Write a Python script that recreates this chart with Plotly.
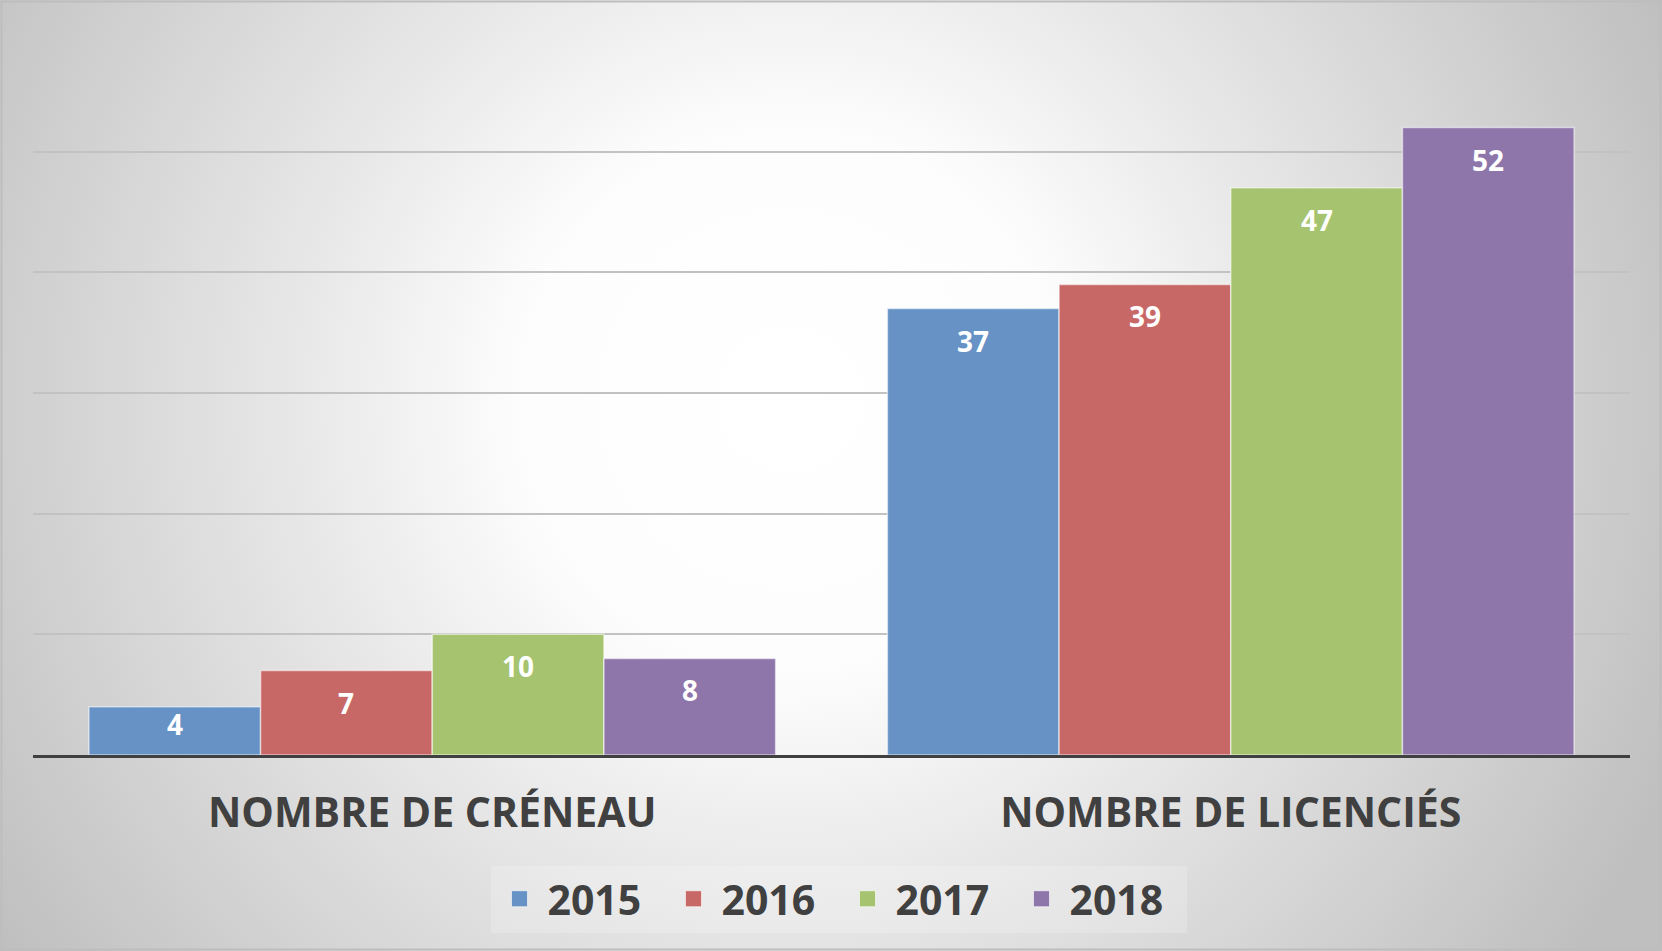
import base64
import plotly.graph_objects as go

categories = ["NOMBRE DE CRÉNEAU", "NOMBRE DE LICENCIÉS"]
series_names = ["2015", "2016", "2017", "2018"]
values_2015 = [4, 37]
values_2016 = [7, 39]
values_2017 = [10, 47]
values_2018 = [8, 52]
series_values = [values_2015, values_2016, values_2017, values_2018]
colors = ["#6792C6", "#C86866", "#A6C46F", "#8E76AB"]

W, H = 1662, 951
ML, MR, MT, MB = 33, 32, 31, 196
PW, PH = W - ML - MR, H - MT - MB
Y_MAX = 60
BARGAP = 0.14

svg = f'''<svg xmlns="http://www.w3.org/2000/svg" width="{W}" height="{H}" viewBox="0 0 {W} {H}">
<defs><radialGradient id="g" gradientUnits="userSpaceOnUse" cx="790" cy="400" r="960">
<stop offset="0" stop-color="#FFFFFF"/>
<stop offset="0.28" stop-color="#FDFDFD"/>
<stop offset="0.5" stop-color="#E9E9E9"/>
<stop offset="1" stop-color="#BFBFBF"/>
</radialGradient></defs>
<rect x="0" y="0" width="{W}" height="{H}" fill="url(#g)"/>
</svg>'''
svg_uri = "data:image/svg+xml;base64," + base64.b64encode(svg.encode()).decode()

fig = go.Figure()
for name, vals, col in zip(series_names, series_values, colors):
    fig.add_trace(go.Bar(
        x=categories, y=vals, name=name, showlegend=False, legendgroup=name,
        marker=dict(color=col, line=dict(color="rgba(255,255,255,0.55)", width=1.5)),
        hoverinfo="x+y+name",
    ))
# legend swatches (larger squares like the original)
for name, col in zip(series_names, colors):
    fig.add_trace(go.Scatter(
        x=[None], y=[None], mode="markers", name=name, legendgroup=name,
        marker=dict(symbol="square", size=16, color=col,
                    line=dict(color="rgba(255,255,255,0.6)", width=1)),
    ))

# data labels inside end of each bar
px_per_unit = PH / Y_MAX
cat_px = PW / len(categories)
bar_w = cat_px * (1 - BARGAP) / len(series_names)
annotations = []
for i, vals in enumerate(series_values):
    for cat, v in zip(categories, vals):
        h = v * px_per_unit
        off = min(32, h / 2 - 7)
        annotations.append(dict(
            x=cat, y=v, xref="x", yref="y", text=str(v), showarrow=False,
            xshift=(i - (len(series_names) - 1) / 2) * bar_w, yshift=-off,
            yanchor="middle", xanchor="center",
            font=dict(family="Open Sans", size=28, color="white", weight="bold"),
        ))

fig.update_layout(
    width=W, height=H,
    margin=dict(l=ML, r=MR, t=MT, b=MB, autoexpand=False),
    paper_bgcolor="white",
    plot_bgcolor="rgba(0,0,0,0)",
    barmode="group", bargap=BARGAP, bargroupgap=0,
    showlegend=True,
    legend=dict(
        orientation="h", x=0.505, xanchor="center", y=-0.199, yanchor="middle",
        font=dict(family="Open Sans", size=41, color="#404040", weight="bold"),
        bgcolor="rgba(255,255,255,0.2)", entrywidth=113, entrywidthmode="pixels",
        itemwidth=46, itemclick=False, traceorder="normal",
    ),
    xaxis=dict(
        showgrid=False, showline=True, linecolor="#404040", linewidth=3,
        ticks="", ticklabelstandoff=20, automargin=False,
        tickfont=dict(family="Open Sans", size=41, color="#404040", weight="bold"),
    ),
    yaxis=dict(
        range=[0, Y_MAX], dtick=10, showgrid=True, gridcolor="#C2C2C2", gridwidth=1.5,
        showticklabels=False, zeroline=False, showline=False, ticks="", automargin=False,
    ),
    images=[dict(
        source=svg_uri, xref="paper", yref="paper",
        x=-ML / PW, y=1 + MT / PH, sizex=W / PW, sizey=H / PH,
        xanchor="left", yanchor="top", sizing="stretch", layer="below",
    )],
    shapes=[dict(
        type="rect", xref="paper", yref="paper",
        x0=-(ML - 1.5) / PW, x1=1 + (MR - 1.5) / PW, y0=-(MB - 1.5) / PH, y1=1 + (MT - 1.5) / PH,
        line=dict(color="#BDBDBD", width=2), fillcolor="rgba(0,0,0,0)", layer="above",
    )],
    annotations=annotations,
)

fig.write_html("out.html", config={"displayModeBar": False},
               post_script="document.body.style.margin='0';")
